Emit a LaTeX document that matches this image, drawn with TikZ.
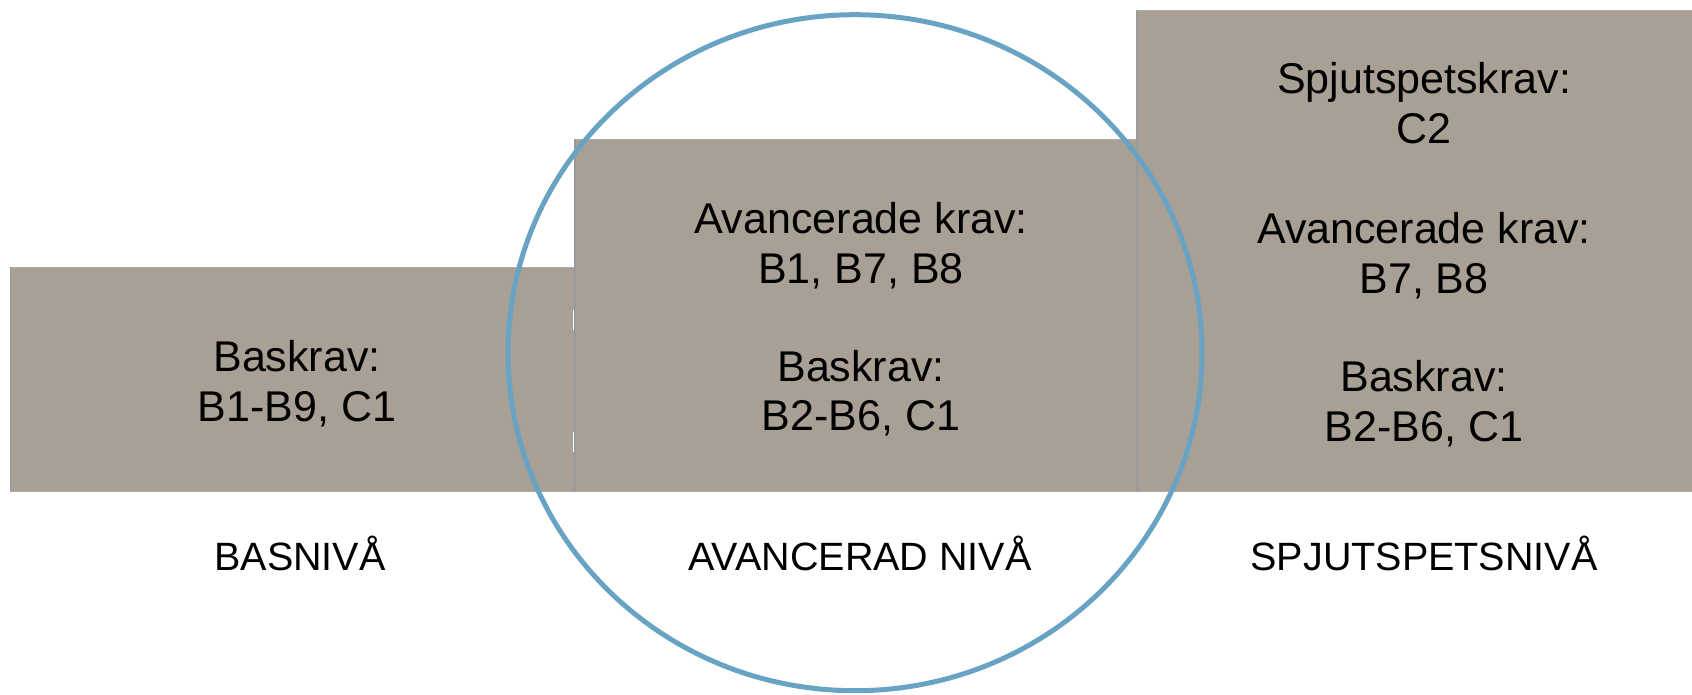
\documentclass[tikz,border=0pt]{standalone}
\usepackage{fontspec}
\setmainfont{Liberation Sans}
\definecolor{boxfill}{HTML}{A89F95}
\definecolor{boxedge}{HTML}{B4ADA6}
\definecolor{sepgray}{HTML}{9A9A9C}
\definecolor{ringblue}{HTML}{68A3C4}
\begin{document}
\begin{tikzpicture}[x=1pt,y=-1pt,
  box/.style={fill=boxfill, draw=boxedge, line width=1pt},
  sepline/.style={draw=sepgray, line width=1.6pt},
  txt/.style={anchor=base, inner sep=0pt, font=\fontsize{43}{49}\selectfont},
  lbl/.style={anchor=base, inner sep=0pt, font=\fontsize{39.5}{45}\selectfont},
  ring/.style={draw=ringblue, line width=5pt}]
\useasboundingbox (0,0) rectangle (1692,694);
% boxes
\path[box] (10,267) rectangle (574,491);
\path[box] (574,139) rectangle (1137,491);
\path[box] (1137,10) rectangle (1693,491);
% separators
\draw[sepline] (10.5,267) -- (10.5,491);
\draw[sepline] (575,139) -- (575,491);
\draw[sepline] (1137,10) -- (1137,491);
\draw[white, line width=1pt] (573,310) -- (573,330);
\draw[white, line width=1pt] (573,432) -- (573,452);
% box 1 text
\node[txt] (b1a) at (297,371.7) {Baskrav:};
\node[txt] (b1b) at (297,421) {B1-B9, C1};
% box 2 text
\node[txt] (b2a) at (861,233) {Avancerade krav:};
\node[txt] (b2b) at (861,283) {B1, B7, B8};
\node[txt] (b2c) at (861,381) {Baskrav:};
\node[txt] (b2d) at (861,430) {B2-B6, C1};
% box 3 text
\node[txt] (b3a) at (1424,93) {Spjutspetskrav:};
\node[txt] (b3b) at (1424,143) {C2};
\node[txt] (b3c) at (1424,243) {Avancerade krav:};
\node[txt] (b3d) at (1424,293) {B7, B8};
\node[txt] (b3e) at (1424,391) {Baskrav:};
\node[txt] (b3f) at (1424,441) {B2-B6, C1};
% labels
\node[lbl] (l1) at (300,570) {BASNIVÅ};
\node[lbl] (l2) at (860,570) {AVANCERAD NIVÅ};
\node[lbl] (l3) at (1424,570) {SPJUTSPETSNIVÅ};
% ring
\draw[ring] (855,352.7) ellipse [x radius=347, y radius=338];
\end{tikzpicture}
\end{document}
